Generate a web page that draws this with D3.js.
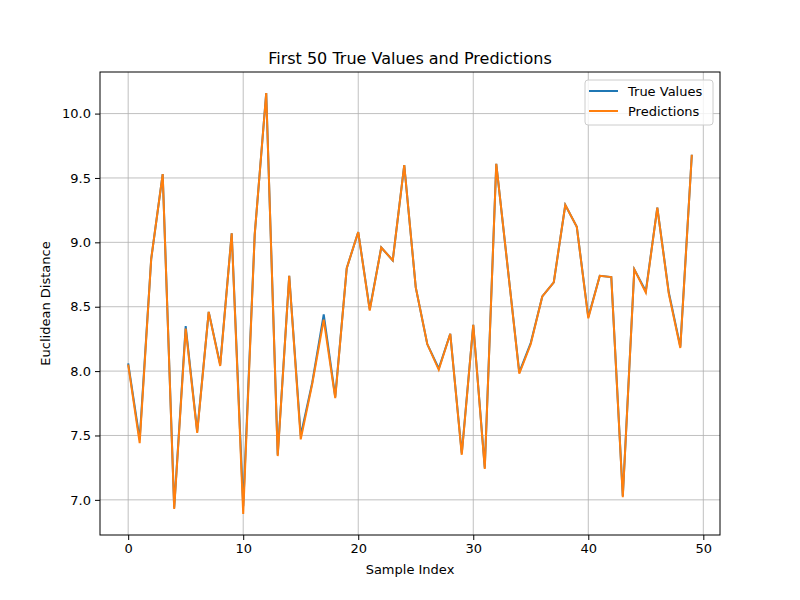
<!DOCTYPE html>
<html>
<head>
<meta charset="utf-8">
<script src="https://cdn.jsdelivr.net/npm/d3@7"></script>
<style>
  body { margin: 0; background: #fff; }
  text { font-family: "DejaVu Sans", sans-serif; }
</style>
</head>
<body>
<div id="chart"></div>
<script>
// Values
const trueValues = [8.06, 7.47, 8.87, 9.53, 6.94, 8.35, 7.53, 8.46, 8.05, 9.07,
    6.95, 9.06, 10.16, 7.35, 8.74, 7.50, 7.91, 8.44, 7.80, 8.80,
    9.08, 8.48, 8.96, 8.86, 9.60, 8.65, 8.21, 8.02, 8.29, 7.36,
    8.36, 7.25, 9.61, 8.80, 7.99, 8.22, 8.58, 8.69, 9.29, 9.12,
    8.42, 8.74, 8.73, 7.03, 8.79, 8.62, 9.27, 8.61, 8.19, 9.68];
const predictions = [8.05, 7.44, 8.87, 9.53, 6.93, 8.33, 7.52, 8.46, 8.04, 9.07,
    6.89, 9.06, 10.16, 7.34, 8.74, 7.47, 7.90, 8.40, 7.79, 8.80,
    9.08, 8.47, 8.96, 8.86, 9.60, 8.65, 8.21, 8.01, 8.29, 7.35,
    8.36, 7.24, 9.61, 8.80, 7.98, 8.21, 8.58, 8.69, 9.29, 9.12,
    8.41, 8.74, 8.73, 7.02, 8.79, 8.61, 9.27, 8.60, 8.18, 9.68];
const xTicks = [0, 10, 20, 30, 40, 50];
const yTicks = [7.0, 7.5, 8.0, 8.5, 9.0, 9.5, 10.0];

const svgWidth = 800, svgHeight = 600;
const margin = { top: 72, right: 80, bottom: 65, left: 100 };
const width = svgWidth - margin.left - margin.right;
const height = svgHeight - margin.top - margin.bottom;

const svg = d3.select("#chart")
    .append("svg")
    .attr("width", svgWidth)
    .attr("height", svgHeight);

const g = svg.append("g")
    .attr("transform", `translate(${margin.left},${margin.top})`);

const x = d3.scaleLinear().domain([-2.45, 51.45]).range([0, width]);
const y = d3.scaleLinear().domain([6.727, 10.323]).range([height, 0]);

// Grid
g.append("g").selectAll("line").data(xTicks).enter().append("line")
    .attr("x1", d => x(d)).attr("x2", d => x(d))
    .attr("y1", 0).attr("y2", height)
    .attr("stroke", "#b0b0b0").attr("stroke-width", 0.8);
g.append("g").selectAll("line").data(yTicks).enter().append("line")
    .attr("y1", d => y(d)).attr("y2", d => y(d))
    .attr("x1", 0).attr("x2", width)
    .attr("stroke", "#b0b0b0").attr("stroke-width", 0.8);

// Lines
const line = d3.line().x((d, i) => x(i)).y(d => y(d));
g.append("path").datum(trueValues)
    .attr("fill", "none").attr("stroke", "#1f77b4").attr("stroke-width", 2)
    .attr("d", line);
g.append("path").datum(predictions)
    .attr("fill", "none").attr("stroke", "#ff7f0e").attr("stroke-width", 2)
    .attr("d", line);

// Axes
const xAxis = g.append("g")
    .attr("transform", `translate(0,${height})`)
    .call(d3.axisBottom(x).tickValues(xTicks).tickSize(5).tickPadding(4));
const yAxis = g.append("g")
    .call(d3.axisLeft(y).tickValues(yTicks).tickFormat(d3.format(".1f")).tickSize(5).tickPadding(4));
[xAxis, yAxis].forEach(a => {
    a.selectAll("text").attr("font-size", 13).attr("fill", "#000").style("font-family", "DejaVu Sans");
    a.select(".domain").remove();
});
g.append("rect")
    .attr("width", width).attr("height", height)
    .attr("fill", "none").attr("stroke", "#000").attr("stroke-width", 1);

// Title and labels
svg.append("text")
    .attr("x", margin.left + width / 2).attr("y", 64)
    .attr("text-anchor", "middle").attr("font-size", 16)
    .text("First 50 True Values and Predictions");
svg.append("text")
    .attr("x", margin.left + width / 2).attr("y", 574)
    .attr("text-anchor", "middle").attr("font-size", 13)
    .text("Sample Index");
svg.append("text")
    .attr("transform", `translate(50,${margin.top + height / 2}) rotate(-90)`)
    .attr("text-anchor", "middle").attr("font-size", 13)
    .text("Euclidean Distance");

// Legend
const legend = svg.append("g").attr("transform", "translate(585,80)");
legend.append("rect")
    .attr("width", 128).attr("height", 45).attr("rx", 3)
    .attr("fill", "#fff").attr("fill-opacity", 0.8)
    .attr("stroke", "#ccc").attr("stroke-width", 1);
const items = [["True Values", "#1f77b4"], ["Predictions", "#ff7f0e"]];
items.forEach(([label, color], i) => {
    const yy = 11 + i * 20;
    legend.append("line")
        .attr("x1", 4).attr("x2", 33).attr("y1", yy).attr("y2", yy)
        .attr("stroke", color).attr("stroke-width", 2);
    legend.append("text")
        .attr("x", 43).attr("y", yy + 5)
        .attr("font-size", 13).text(label);
});
</script>
</body>
</html>
